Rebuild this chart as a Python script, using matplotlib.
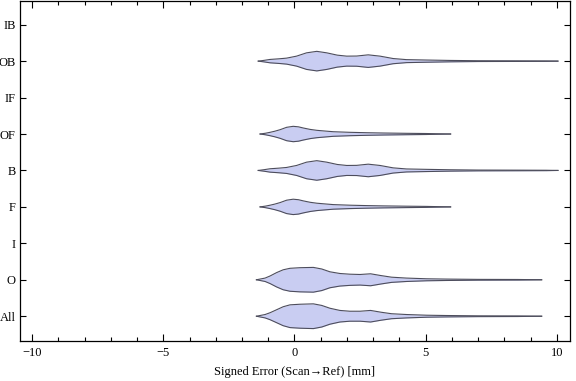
import numpy as np
import matplotlib
matplotlib.use('Agg')
import matplotlib.pyplot as plt
from matplotlib.ticker import MultipleLocator

# Kategori dari bawah ke atas
categories = ["All", "O", "I", "F", "B", "OF", "IF", "OB", "IB"]

# Profil kepadatan (posisi error [mm], kepadatan relatif)
all_x = [-1.45, -1.12, -0.93, -0.68, -0.43, -0.17, 0.21, 0.72, 1.04, 1.35, 1.73, 2.11, 2.5, 2.9,
         3.3, 3.7, 4.27, 5.04, 5.8, 7.0, 8.5, 9.42]
all_d = [0.0, 1.7, 3.5, 6.5, 9.5, 11.4, 12.0, 12.4, 10.8, 8.0, 5.8, 5.0, 5.0, 5.8,
         4.0, 2.5, 1.7, 1.0, 0.7, 0.4, 0.3, 0.0]

o_x = [-1.45, -1.12, -0.93, -0.68, -0.43, -0.17, 0.21, 0.72, 1.04, 1.35, 1.73, 2.11, 2.5, 2.9,
       3.3, 3.7, 4.27, 5.04, 5.8, 7.0, 8.5, 9.42]
o_d = [0.0, 1.7, 3.8, 7.2, 10.0, 11.5, 12.1, 12.4, 10.8, 8.0, 6.3, 5.6, 5.3, 6.0,
       4.2, 2.6, 1.7, 1.0, 0.7, 0.4, 0.3, 0.0]

f_x = [-1.31, -1.1, -0.93, -0.75, -0.55, -0.3, -0.05, 0.15, 0.34, 0.6, 0.85, 1.2, 1.48,
       2.11, 2.75, 3.38, 4.27, 5.0, 5.95]
f_d = [0.0, 0.8, 1.7, 2.8, 4.3, 6.7, 7.7, 7.2, 6.0, 4.6, 3.7, 2.9, 2.3,
       1.7, 1.3, 1.0, 0.7, 0.5, 0.0]

b_x = [-1.38, -1.15, -0.93, -0.6, -0.3, 0.08, 0.46, 0.85, 1.23, 1.63, 1.99, 2.37, 2.81,
       3.26, 3.76, 4.27, 5.04, 5.92, 7.0, 8.5, 9.6, 10.04]
b_d = [0.0, 0.8, 1.7, 2.3, 3.0, 5.0, 8.3, 9.8, 8.3, 6.0, 5.0, 5.1, 6.3,
       5.0, 2.6, 1.5, 1.1, 0.7, 0.4, 0.3, 0.2, 0.0]

# Kategori kosong (I, IF, IB) tidak punya data
profiles = {
    "All": (all_x, all_d),
    "O": (o_x, o_d),
    "F": (f_x, f_d),
    "B": (b_x, b_d),
    "OF": (f_x, f_d),
    "OB": (b_x, b_d),
}

xticks = [-10, -5, 0, 5, 10]
xlabel = "Signed Error (Scan\u2192Ref) [mm]"

plt.rcParams['font.family'] = ['Liberation Serif', 'DejaVu Serif']

fig = plt.figure(figsize=(5.76, 3.81), dpi=100)
ax = fig.add_axes([20 / 576, 40 / 381, 550 / 576, 340 / 381])

scale = 1 / 36.5  # lebar violin per unit kepadatan
for i, cat in enumerate(categories):
    pos = i + 1
    if cat not in profiles:
        continue
    x, d = profiles[cat]
    x = np.array(x)
    h = np.array(d) * scale
    ax.fill_between(x, pos - h, pos + h, color='#c9cdf2', lw=0)
    ax.plot(x, pos + h, color='#4d4d5c', lw=0.8)
    ax.plot(x, pos - h, color='#4d4d5c', lw=0.8)

ax.set_xlim(-10.46, 10.5)
ax.set_ylim(0.32, 9.65)
ax.set_yticks(range(1, len(categories) + 1))
ax.set_yticklabels(categories)
ax.set_xticks(xticks)
ax.set_xticklabels([str(t).replace('-', '\u2212') for t in xticks])
ax.xaxis.set_minor_locator(MultipleLocator(1))

ax.tick_params(axis='both', which='both', direction='in', top=True, right=True,
               labelsize=9, width=0.8, colors='black')
ax.tick_params(axis='x', which='major', length=5, pad=4)
ax.tick_params(axis='x', which='minor', length=3)
ax.tick_params(axis='y', which='major', length=4, pad=3)
for s in ax.spines.values():
    s.set_linewidth(0.9)

ax.set_xlabel(xlabel, fontsize=9, labelpad=5)

fig.savefig('out.png', dpi=100)
